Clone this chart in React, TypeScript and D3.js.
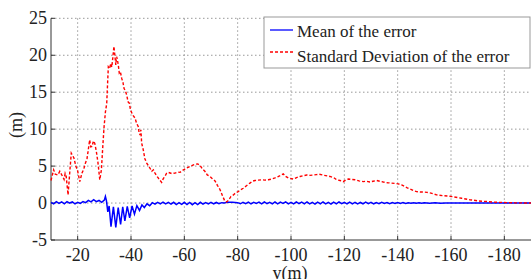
import * as d3 from 'd3'

// distance (m) and error (m)
const stdErr: [number, number][] = [
  [-10, 3.05], [-11, 4.5], [-11.6, 3.9], [-12.6, 3.8], [-13.3, 4.3], [-13.9, 3.9], [-14.5, 3.5], [-14.9, 3.2],
  [-15.3, 4.0], [-15.7, 3.6], [-16.4, 1.1], [-17, 4.0], [-17.6, 6.75], [-18.6, 6.1], [-19.3, 5.0], [-19.9, 4.5],
  [-20.4, 3.6], [-20.8, 2.9], [-21.6, 4.05], [-22.3, 4.6], [-22.9, 5.4], [-23.5, 6.0], [-23.9, 7.0], [-24.5, 8.55],
  [-24.9, 7.6], [-25.4, 7.65], [-25.9, 8.4], [-26.4, 8.1], [-27.0, 7.0], [-27.6, 5.5], [-28.3, 3.15], [-28.9, 4.5],
  [-29.4, 7.5], [-29.9, 10.3], [-30.4, 12.3], [-30.9, 13.5], [-31.2, 16], [-31.5, 18.45], [-32.0, 18.2], [-32.4, 18.9],
  [-32.8, 18.4], [-33.1, 19.4], [-33.6, 21.2], [-34.0, 19.8], [-34.3, 18.7], [-34.6, 19.8], [-34.9, 19.4], [-35.3, 18.5],
  [-35.6, 17.6], [-36.0, 17.8], [-36.5, 16.9], [-37.0, 16.3], [-37.4, 15.5], [-37.9, 15.2], [-38.4, 14.6], [-38.9, 13.7],
  [-39.4, 13.5], [-39.8, 12.6], [-40.3, 12.2], [-40.9, 11.8], [-41.5, 11.5], [-42.1, 10.8], [-42.7, 10.35], [-43.0, 9.6],
  [-43.4, 9.2], [-43.7, 9.9], [-44.0, 8.1], [-44.6, 7.2], [-45.2, 6.0], [-45.9, 5.4], [-46.8, 4.9], [-47.8, 4.3],
  [-48.4, 4.5], [-49.0, 4.05], [-49.6, 3.7], [-50.2, 3.4], [-50.8, 3.1], [-51.5, 2.8], [-52.1, 3.3], [-52.7, 3.6],
  [-53.3, 4.0], [-54.0, 4.15], [-55.2, 4.0], [-56.5, 4.05], [-57.5, 4.2], [-58.4, 4.15], [-59.3, 4.4], [-60.2, 4.6],
  [-61.2, 4.8], [-62.1, 4.95], [-63.0, 5.1], [-64.0, 5.25], [-65.0, 5.3], [-65.9, 5.1], [-66.8, 4.6], [-67.7, 4.3],
  [-68.6, 3.8], [-69.6, 3.6], [-70.5, 3.3], [-71.5, 3.0], [-72.4, 2.4], [-73.4, 1.8], [-74.3, 1.0], [-75.2, 0.25],
  [-75.8, 0.15], [-76.5, 0.35], [-77.5, 0.9], [-78.4, 1.1], [-79.3, 1.4], [-80.2, 1.55], [-81.1, 1.8], [-82.1, 2.0],
  [-83.3, 2.35], [-84.6, 2.7], [-85.5, 2.95], [-86.5, 3.05], [-87.7, 3.1], [-89.0, 3.15], [-90.2, 3.1], [-91.5, 3.15],
  [-92.8, 3.25], [-94.0, 3.4], [-95.0, 3.55], [-95.9, 3.7], [-97.1, 3.95], [-98.0, 3.6], [-99.0, 3.4], [-100.9, 3.25],
  [-102.1, 3.45], [-103.4, 3.6], [-104.6, 3.7], [-105.9, 3.8], [-107.1, 3.75], [-108.4, 3.8], [-109.5, 3.85], [-110.6, 3.9],
  [-112.5, 3.75], [-114.6, 3.6], [-116, 3.45], [-117.1, 3.15], [-118.4, 3.05], [-119.6, 2.9], [-120.5, 3.1], [-121.5, 3.25],
  [-122.7, 3.2], [-124.0, 3.15], [-125.5, 3.0], [-127.1, 2.9], [-128.4, 2.95], [-129.6, 2.85], [-130.8, 2.95], [-132.1, 3.05],
  [-133.3, 2.95], [-134.6, 2.85], [-136.2, 2.75], [-137.7, 2.7], [-139, 2.65], [-140.2, 2.6], [-141.5, 2.45], [-142.7, 2.25],
  [-143.6, 2.05], [-144.6, 1.9], [-145.8, 1.7], [-147.1, 1.55], [-148.4, 1.5], [-149.6, 1.5], [-151, 1.45], [-152.5, 1.35],
  [-154.6, 1.1], [-157, 1.0], [-159, 0.95], [-160.9, 0.85], [-164, 0.65], [-167.1, 0.45], [-170, 0.3], [-173.4, 0.2],
  [-176, 0.12], [-179.6, 0.08], [-184, 0.03], [-190, 0.0],
]

const meanErr: [number, number][] = [
  [-10, 0.1], [-11, -0.1], [-12, 0.2], [-13, -0.05], [-14, 0.15], [-15, -0.1], [-16, 0.2], [-17, 0.0],
  [-18, 0.15], [-19, -0.1], [-20, 0.1], [-21, -0.05], [-22, 0.2], [-23, 0.05], [-24, 0.35], [-25, 0.15],
  [-26, 0.45], [-27, 0.2], [-28, 0.35], [-29, 0.1], [-30, 0.4], [-30.4, 0.9], [-30.8, 0.3], [-31.3, -1.2],
  [-31.8, -0.4], [-32.5, -3.2], [-33.4, -0.5], [-34.3, -3.3], [-35.2, -0.6], [-36.1, -2.9], [-36.9, -0.5], [-37.7, -2.4],
  [-38.6, -0.45], [-39.5, -2.0], [-40.4, -0.4], [-41.3, -1.5], [-42.2, -0.35], [-43.2, -1.0], [-44.1, -0.25], [-45, -0.6],
  [-46, -0.1], [-47, -0.35], [-48, 0.05], [-49, -0.15], [-50, 0.1], [-51, -0.1], [-52, 0.12], [-53, -0.12],
  [-54, 0.08], [-55, -0.15], [-56, 0.1], [-57, -0.2], [-58, 0.05], [-59, -0.18], [-60, 0.1], [-61, -0.2],
  [-62, 0.08], [-63, -0.22], [-64, 0.05], [-65, -0.2], [-66, 0.1], [-67, -0.15], [-68, 0.05], [-69, -0.12],
  [-70, 0.1], [-71, -0.1], [-72, 0.08], [-73, -0.1], [-74, 0.05], [-75, 0.0], [-76, 0.1], [-78, 0.1],
  [-80, 0.05], [-81, -0.1], [-82, 0.1], [-83, -0.08], [-84, 0.12], [-85, -0.1], [-86, 0.1], [-87, -0.05],
  [-88, 0.12], [-89, -0.1], [-90, 0.15], [-91, -0.08], [-92, 0.1], [-93, -0.12], [-94, 0.15], [-95, -0.1],
  [-96, 0.12], [-97, -0.05], [-98, 0.15], [-99, -0.1], [-100, 0.1], [-101, -0.12], [-102, 0.15], [-103, -0.08],
  [-104, 0.12], [-105, -0.1], [-106, 0.15], [-107, -0.12], [-108, 0.1], [-109, -0.15], [-110, 0.12], [-111, -0.1],
  [-112, 0.15], [-113, -0.12], [-114, 0.1], [-115, -0.15], [-116, 0.12], [-117, -0.1], [-118, 0.15], [-119, -0.08],
  [-120, 0.1], [-121, -0.12], [-122, 0.12], [-123, -0.1], [-124, 0.1], [-125, -0.12], [-126, 0.08], [-127, -0.1],
  [-128, 0.12], [-129, -0.08], [-130, 0.1], [-131, -0.1], [-132, 0.08], [-133, -0.08], [-134, 0.1], [-135, -0.06],
  [-136, 0.08], [-137, -0.08], [-138, 0.06], [-139, -0.06], [-140, 0.08], [-141, -0.05], [-142, 0.06], [-143, -0.05],
  [-144, 0.05], [-145, -0.04], [-146, 0.05], [-147, -0.04], [-148, 0.04], [-149, -0.03], [-150, 0.04], [-152, -0.02],
  [-154, 0.03], [-156, -0.02], [-158, 0.02], [-160, 0.0], [-165, 0.02], [-170, 0.01], [-180, 0.01], [-190, 0.0],
]

const xTicks = [-20, -40, -60, -80, -100, -120, -140, -160, -180]
const yTicks = [-5, 0, 5, 10, 15, 20, 25]

const legendItems = [
  { label: 'Mean of the error', color: '#0000ff', dash: '' },
  { label: 'Standard Deviation of the error', color: '#ff0000', dash: '3,2' },
]

export default function App() {
  const width = 532
  const height = 279
  const left = 51
  const right = 531
  const top = 18.3
  const bottom = 240

  const x = d3.scaleLinear().domain([-10, -190]).range([left, right])
  const y = d3.scaleLinear().domain([-5, 25]).range([bottom, top])

  const line = d3.line<[number, number]>().x(d => x(d[0])).y(d => y(d[1]))
  const font = "'Liberation Serif', 'Times New Roman', serif"

  return (
    <svg width={width} height={height} style={{ position: 'absolute', left: 0, top: 0, background: '#fff', fontFamily: font }}>
      <rect x={0} y={0} width={width} height={height} fill="#fff" />
      {/* grid */}
      {xTicks.map(t => (
        <line key={'gx' + t} x1={x(t)} x2={x(t)} y1={top} y2={bottom} stroke="#999" strokeWidth={1}
          strokeDasharray="1.5,2.5" />
      ))}
      {yTicks.filter(t => t > -5).map(t => (
        <line key={'gy' + t} x1={left} x2={right} y1={y(t)} y2={y(t)} stroke="#999" strokeWidth={1}
          strokeDasharray="1.5,2.5" />
      ))}
      {/* axes */}
      <line x1={left} x2={left} y1={top} y2={bottom} stroke="#333" strokeWidth={1} />
      <line x1={left} x2={right} y1={bottom} y2={bottom} stroke="#333" strokeWidth={1} />
      {xTicks.map(t => (
        <g key={'tx' + t}>
          <line x1={x(t)} x2={x(t)} y1={bottom} y2={bottom - 4} stroke="#333" />
          <text x={x(t)} y={261} fontSize={18} textAnchor="middle" fill="#222">{t}</text>
        </g>
      ))}
      {yTicks.map(t => (
        <g key={'ty' + t}>
          <line x1={left} x2={left + 4} y1={y(t)} y2={y(t)} stroke="#333" />
          <text x={47} y={y(t) + 6} fontSize={18} textAnchor="end" fill="#222">{t}</text>
        </g>
      ))}
      <text x={290} y={279} fontSize={18} textAnchor="middle" fill="#222">y(m)</text>
      <text transform="translate(22,125) rotate(-90)" fontSize={18} textAnchor="middle" fill="#222">(m)</text>

      {/* series */}
      <path d={line(meanErr) ?? ''} fill="none" stroke="#0000ff" strokeWidth={1.5} />
      <path d={line(stdErr) ?? ''} fill="none" stroke="#ff0000" strokeWidth={1.4} strokeDasharray="3,2" />

      {/* legend */}
      <rect x={264} y={17} width={266} height={51} fill="#fff" stroke="#999" strokeWidth={1} />
      {legendItems.map((d, i) => (
        <g key={d.label}>
          <line x1={270} x2={293} y1={30 + i * 22} y2={30 + i * 22} stroke={d.color} strokeWidth={1.3}
            strokeDasharray={d.dash} />
          <text x={297} y={37 + i * 25} fontSize={17} fill="#222">{d.label}</text>
        </g>
      ))}
    </svg>
  )
}
